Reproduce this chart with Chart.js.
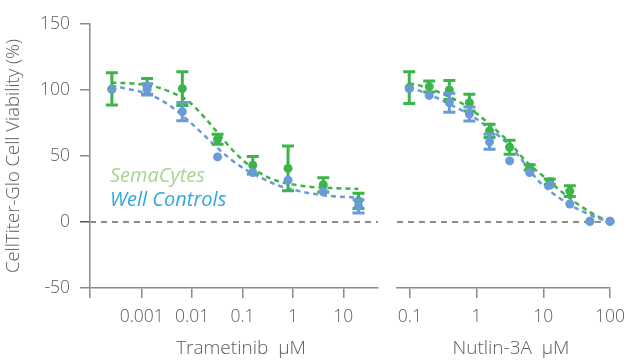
<!DOCTYPE html>
<html><head><meta charset="utf-8">
<script src="https://cdn.jsdelivr.net/npm/chart.js@4"></script>
<style>
html,body{margin:0;padding:0;background:#fff;width:624px;height:361px;overflow:hidden}
#wrap{position:relative;width:624px;height:361px;overflow:hidden}
#c1{position:absolute;left:0;top:0}
#c2{position:absolute;left:385px;top:0}
.leg{position:absolute;font-family:'Open Sans';font-style:italic;font-size:20px;white-space:nowrap;line-height:1;font-weight:400}
.xt{position:absolute;width:240px;text-align:center;font-family:'Open Sans';font-size:19px;font-weight:300;color:#5c5c5c;line-height:1;white-space:pre}
</style></head>
<body><div id="wrap">
<canvas id="c1" width="385" height="361"></canvas>
<canvas id="c2" width="250" height="361"></canvas>
<div class="leg" style="left:110px;top:165px;color:#a6d68e">SemaCytes</div>
<div class="leg" style="left:110px;top:189px;color:#2ea9de">Well Controls</div>
<div class="xt" id="t1" style="left:121px;top:338px"></div>
<div class="xt" id="t2" style="left:391px;top:338px"></div>
</div>
<script>
// ---- Trametinib panel ----
const tramDose = [0.000256, 0.00128, 0.0064, 0.032, 0.16, 0.8, 4, 20];
const tramSema = [100.8, 102.7, 101, 62.7, 43, 40.6, 28.2, 16];
const tramSemaErr = [12.2, 6, 12.8, 3.8, 6.7, 17, 5.4, 5.8];
const tramWell = [100.5, 100.5, 83.6, 49.3, 37.5, 31.7, 22.9, 11.9];
const tramWellErr = [0, 4.2, 6.9, 0, 0, 0, 0, 5];
const tramCurveDose = [0.00025,0.0005,0.001,0.002,0.004,0.008,0.016,0.03,0.06,0.12,0.25,0.5,1,2,4,8,20];
const tramSemaFit = [105.5,105.2,104.3,102.2,98,92.2,81,69,55.5,44.5,36,31,28.5,26.8,26,25.5,25];
const tramWellFit = [103.5,101,98.5,94,87,77.5,67,57,47.2,39.3,33,27.8,24.5,22,20.3,19.2,18.7];
const tramTicks = [0.001, 0.01, 0.1, 1, 10];
const tramTickLabels = ['0.001', '0.01', '0.1', '1', '10'];
const tramTitle = 'Trametinib  µM';

// ---- Nutlin-3A panel ----
const nutDose = [0.0977, 0.195, 0.39, 0.78, 1.5625, 3.125, 6.25, 12.5, 25, 50, 100];
const nutSema = [101.8, 102.6, 100, 90.4, 69, 56.6, 41.3, 30.5, 23.4, 0.5, 0.5];
const nutSemaErr = [12, 4.2, 7.2, 6.3, 5, 5.3, 2, 2, 4, 0, 0];
const nutWell = [101, 95.9, 90.4, 81.8, 60.8, 46.3, 37.5, 27.8, 13.6, 0.5, 0.5];
const nutWellErr = [0, 0, 7.2, 5.3, 5.7, 0, 0, 0, 0, 0, 0];
const nutCurveDose = [0.0977,0.138,0.195,0.276,0.39,0.552,0.781,1.105,1.5625,2.21,3.125,4.42,6.25,8.84,12.5,17.7,25,35.4,50,70.7,100];
const nutSemaFit = [105,103.5,101,98.2,94.8,91,86.2,80.5,74,67.2,60.2,51.2,43.2,37,30.5,24,18,12.5,7.5,3.5,1];
const nutWellFit = [102,99.5,96.6,93.2,89.3,85.5,81.5,76.5,70.7,64.8,58.2,49.2,39.2,30.2,23.5,18,13,9,5.5,2.5,0.5];
const nutTicks = [0.1, 1, 10, 100];
const nutTickLabels = ['0.1', '1', '10', '100'];
const nutTitle = 'Nutlin-3A  µM';

const yTicks = [-50, 0, 50, 100, 150];
const yTitle = 'CellTiter-Glo Cell Viability (%)';

document.getElementById('t1').textContent = tramTitle;
document.getElementById('t2').textContent = nutTitle;

const GREEN = '#3bb54a', BLUE = '#6a9bd8', AXIS = '#8a8a8a', TXT = '#5c5c5c';
const FONT = "'Open Sans'";

const pts = (xs, ys) => xs.map((x, i) => ({x, y: ys[i]}));

const errPlugin = {
  id: 'err',
  beforeDatasetDraw(chart, args) {
    const ds = chart.data.datasets[args.index];
    if (!ds.errors) return;
    const {ctx, scales: {x, y}} = chart;
    ctx.save();
    ctx.strokeStyle = ds.backgroundColor;
    ctx.lineWidth = 3;
    ds.data.forEach((p, i) => {
      const e = ds.errors[i];
      if (!e) return;
      const px = x.getPixelForValue(p.x);
      const y1 = y.getPixelForValue(p.y + e), y2 = y.getPixelForValue(p.y - e);
      ctx.beginPath();
      ctx.moveTo(px, y1); ctx.lineTo(px, y2);
      ctx.moveTo(px - 6, y1); ctx.lineTo(px + 6, y1);
      ctx.moveTo(px - 6, y2); ctx.lineTo(px + 6, y2);
      ctx.stroke();
    });
    ctx.restore();
  }
};
const zeroPlugin = {
  id: 'zero',
  beforeDatasetsDraw(chart) {
    const {ctx, chartArea: a, scales: {y}} = chart;
    const py = y.getPixelForValue(0);
    ctx.save();
    ctx.strokeStyle = '#8c8c8c';
    ctx.lineWidth = 2;
    ctx.setLineDash([6, 5]);
    ctx.beginPath(); ctx.moveTo(a.left, py); ctx.lineTo(a.right, py); ctx.stroke();
    ctx.restore();
  }
};

function build(id, o) {
  const datasets = [
    {type: 'line', data: pts(o.cd, o.semaFit), borderColor: GREEN, borderWidth: 2.5, borderDash: [5, 4], pointRadius: 0, cubicInterpolationMode: 'monotone', order: 5, clip: false},
    {type: 'line', data: pts(o.cd, o.wellFit), borderColor: BLUE, borderWidth: 2.5, borderDash: [5, 4], pointRadius: 0, cubicInterpolationMode: 'monotone', order: 4, clip: false},
    {type: 'scatter', data: pts(o.dose, o.sema), errors: o.semaErr, backgroundColor: GREEN, borderWidth: 0, pointRadius: 4.5, order: 2, clip: false},
    {type: 'scatter', data: pts(o.dose, o.well), errors: o.wellErr, backgroundColor: BLUE, borderWidth: 0, pointRadius: 4.5, order: 1, clip: false}
  ];
  return new Chart(document.getElementById(id), {
    type: 'scatter',
    data: {datasets},
    plugins: [errPlugin, zeroPlugin],
    options: {
      responsive: false, animation: false, devicePixelRatio: 1,
      layout: {padding: o.pad},
      plugins: {legend: {display: false}, tooltip: {enabled: false}},
      scales: {
        x: {
          type: 'logarithmic', min: o.xmin, max: o.xmax,
          afterFit: s => { s.height = 73; },
          afterBuildTicks: s => { s.ticks = o.tickVals.map(v => ({value: v})); },
          ticks: {
            autoSkip: false, maxRotation: 0, padding: 9, color: TXT,
            font: {family: FONT, size: 17.5, weight: '300'},
            callback: v => { const i = o.ticks.indexOf(v); return i < 0 ? '' : o.labels[i]; }
          },
          grid: {drawOnChartArea: false, drawTicks: true, tickLength: 10, color: AXIS, lineWidth: 1.5},
          border: {display: true, color: AXIS, width: 1.5},
          title: {display: false}
        },
        y: {
          display: o.showY, min: -50, max: 150,
          afterFit: s => { s.width = o.showY ? 90 : 0; },
          afterBuildTicks: s => { s.ticks = yTicks.map(v => ({value: v})); },
          ticks: {padding: 10, color: TXT, font: {family: FONT, size: 17.5, weight: '300'}},
          grid: {drawOnChartArea: false, drawTicks: true, tickLength: 10, lineWidth: 1.5,
                 color: c => (c.tick && c.tick.value === 0) ? '#555' : AXIS},
          border: {display: true, color: AXIS, width: 1.5},
          title: {display: true, text: yTitle, color: TXT, font: {family: FONT, size: 18.5, weight: '300'}, padding: {top: 3, bottom: 0}}
        }
      }
    }
  });
}

build('c1', {
  dose: tramDose, sema: tramSema, semaErr: tramSemaErr, well: tramWell, wellErr: tramWellErr,
  cd: tramCurveDose, semaFit: tramSemaFit, wellFit: tramWellFit,
  ticks: tramTicks, labels: tramTickLabels, tickVals: [9.424e-5].concat(tramTicks),
  xmin: 9.424e-5, xmax: 48.8, showY: true,
  pad: {left: 0, right: 7, top: 24, bottom: 0}
});
build('c2', {
  dose: nutDose, sema: nutSema, semaErr: nutSemaErr, well: nutWell, wellErr: nutWellErr,
  cd: nutCurveDose, semaFit: nutSemaFit, wellFit: nutWellFit,
  ticks: nutTicks, labels: nutTickLabels, tickVals: nutTicks,
  xmin: 0.06405, xmax: 100, showY: false,
  pad: {left: 12, right: 25, top: 24, bottom: 0}
});
</script>
</body></html>
